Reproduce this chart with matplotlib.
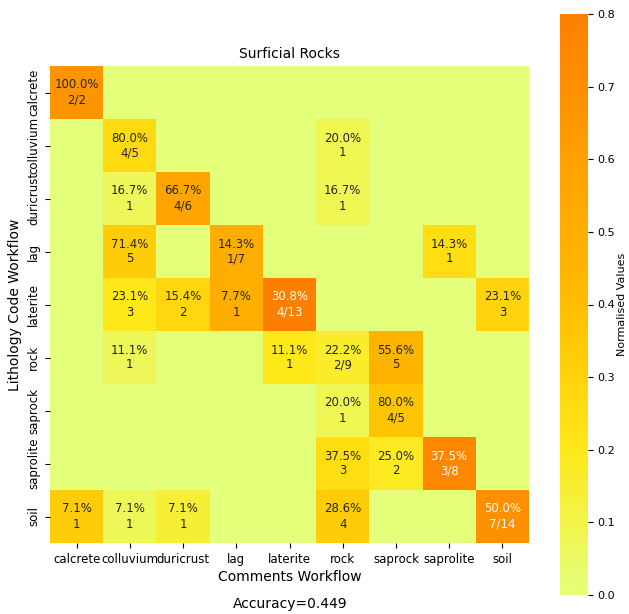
import numpy as np
import matplotlib
matplotlib.use("Agg")
import matplotlib.pyplot as plt
import seaborn as sns

classes = ["calcrete", "colluvium", "duricrust", "lag", "laterite",
           "rock", "saprock", "saprolite", "soil"]

# rows: Lithology Code Workflow, columns: Comments Workflow
row_calcrete = [2, 0, 0, 0, 0, 0, 0, 0, 0]
row_colluvium = [0, 4, 0, 0, 0, 1, 0, 0, 0]
row_duricrust = [0, 1, 4, 0, 0, 1, 0, 0, 0]
row_lag = [0, 5, 0, 1, 0, 0, 0, 1, 0]
row_laterite = [0, 3, 2, 1, 4, 0, 0, 0, 3]
row_rock = [0, 1, 0, 0, 1, 2, 5, 0, 0]
row_saprock = [0, 0, 0, 0, 0, 1, 4, 0, 0]
row_saprolite = [0, 0, 0, 0, 0, 3, 2, 3, 0]
row_soil = [1, 1, 1, 0, 0, 4, 0, 0, 7]

counts = np.array([row_calcrete, row_colluvium, row_duricrust, row_lag,
                   row_laterite, row_rock, row_saprock, row_saprolite,
                   row_soil], dtype=float)

row_tot = counts.sum(axis=1, keepdims=True)
col_tot = counts.sum(axis=0, keepdims=True)
row_pct = counts / row_tot * 100
col_norm = counts / col_tot
accuracy = np.trace(counts) / counts.sum()

n = len(classes)
labels = np.empty((n, n), dtype=object)
for i in range(n):
    for j in range(n):
        c = int(counts[i, j])
        if c == 0:
            labels[i, j] = ""
        elif i == j:
            labels[i, j] = f"{row_pct[i, j]:.1f}%\n{c}/{int(row_tot[i, 0])}"
        else:
            labels[i, j] = f"{row_pct[i, j]:.1f}%\n{c}"

fig = plt.figure(figsize=(6.29, 6.14), dpi=100)
ax = fig.add_axes([50 / 629, 1 - 543 / 614, 479 / 629, 477 / 614])
cax = fig.add_axes([560 / 629, 1 - 595 / 614, 28 / 629, 581 / 614])

sns.heatmap(col_norm, ax=ax, cbar_ax=cax, cmap="Wistia", vmin=0, vmax=0.8,
            annot=labels, fmt="", annot_kws={"fontsize": 8.5},
            xticklabels=classes, yticklabels=classes)

ax.set_title("Surficial Rocks", fontsize=10)
ax.set_xlabel("Comments Workflow", fontsize=10, labelpad=3)
ax.set_ylabel("Lithology Code Workflow", fontsize=10)
ax.tick_params(axis="both", labelsize=8.5)
plt.setp(ax.get_xticklabels(), rotation=0)
plt.setp(ax.get_yticklabels(), rotation=90, va="center")
cax.tick_params(labelsize=8)
cax.set_yticks(np.arange(0, 0.81, 0.1))
cax.set_ylabel("Normalised Values", fontsize=8, labelpad=1)

fig.text(290 / 629, 1 - 604 / 614, f"Accuracy={accuracy:.3f}",
         ha="center", va="center", fontsize=10)

fig.savefig("out.png", dpi=100)
